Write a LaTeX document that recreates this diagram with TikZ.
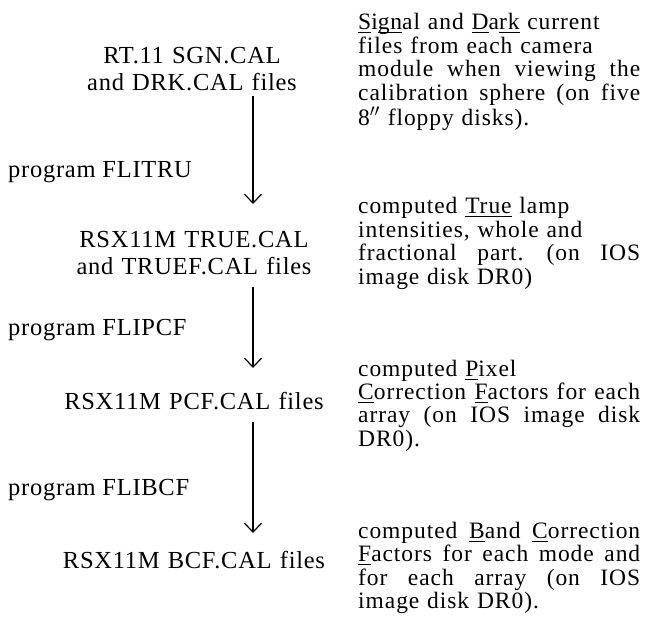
\documentclass[tikz,border=0pt]{standalone}
\usepackage{fontspec}
\setmainfont{Liberation Serif}
\newfontfamily\rfont[LetterSpace=4]{Liberation Serif}
\newfontfamily\lfont[LetterSpace=3]{Liberation Serif}
\usetikzlibrary{arrows.meta}
\newcommand\ulq[1]{\leavevmode\setbox0\hbox{#1}\rlap{\rule[-3.5pt]{\wd0}{1pt}}\box0\relax}
\newcommand\fl[1]{\leavevmode\hbox to 282pt{\spaceskip=.25em plus 1fil\relax\xspaceskip=.35em plus 1fil\relax #1}}
\begin{document}
\begin{tikzpicture}[x=1pt,y=-1pt,
  lab/.style={inner sep=0pt, font=\lfont\fontsize{24.5}{27}\selectfont},
  filebox/.style={lab, text width=300pt, align=center, anchor=base},
  prog/.style={lab, anchor=base west},
  note/.style={inner sep=0pt, text width=282pt, align=left, anchor=base west, font=\rfont\fontsize{23.5}{23.5}\selectfont},
  flow/.style={line width=1.2pt, -{Straight Barb[length=9pt,width=17pt,line width=1.2pt]}}
]
\useasboundingbox (0,0) rectangle (648,628);

\node[filebox] (rt) at (192,64) {RT.11 SGN.CAL\\and DRK.CAL files};
\node[prog] (p1) at (8,178) {program FLITRU};
\node[filebox] (tr) at (194,248) {RSX11M TRUE.CAL\\and TRUEF.CAL files};
\node[prog] (p2) at (8,335) {program FLIPCF};
\node[filebox] (pcf) at (194,409) {RSX11M PCF.CAL files};
\node[prog] (p3) at (8,495) {program FLIBCF};
\node[filebox] (bcf) at (194,568) {RSX11M BCF.CAL files};

\node[note] (n1) at (358,30) {\ulq{S}i\ulq{gn}al and \ulq{D}a\ulq{rk} current\\files from each camera\\\fl{module when viewing the}\\\fl{calibration sphere (on five}\\8$''$ floppy disks).};
\node[note] (n2) at (358,214) {computed \ulq{True} lamp\\intensities, whole and\\\fl{fractional part. (on IOS}\\image disk DR0)};
\node[note] (n3) at (358,376) {computed \ulq{P}ixel\\\fl{\ulq{C}orrection \ulq{F}actors for each}\\\fl{array (on IOS image disk}\\DR0).};
\node[note] (n4) at (358,538) {\fl{computed \ulq{B}and \ulq{C}orrection}\\\fl{\ulq{F}actors for each mode and}\\\fl{for each array (on IOS}\\image disk DR0).};

\coordinate (a1s) at (253,96);
\coordinate (a1e) at (253,204);
\coordinate (a2s) at (253,287);
\coordinate (a2e) at (253,368);
\coordinate (a3s) at (253,422);
\coordinate (a3e) at (253,533);
\draw[flow] (a1s) -- (a1e);
\draw[flow] (a2s) -- (a2e);
\draw[flow] (a3s) -- (a3e);
\end{tikzpicture}
\end{document}
